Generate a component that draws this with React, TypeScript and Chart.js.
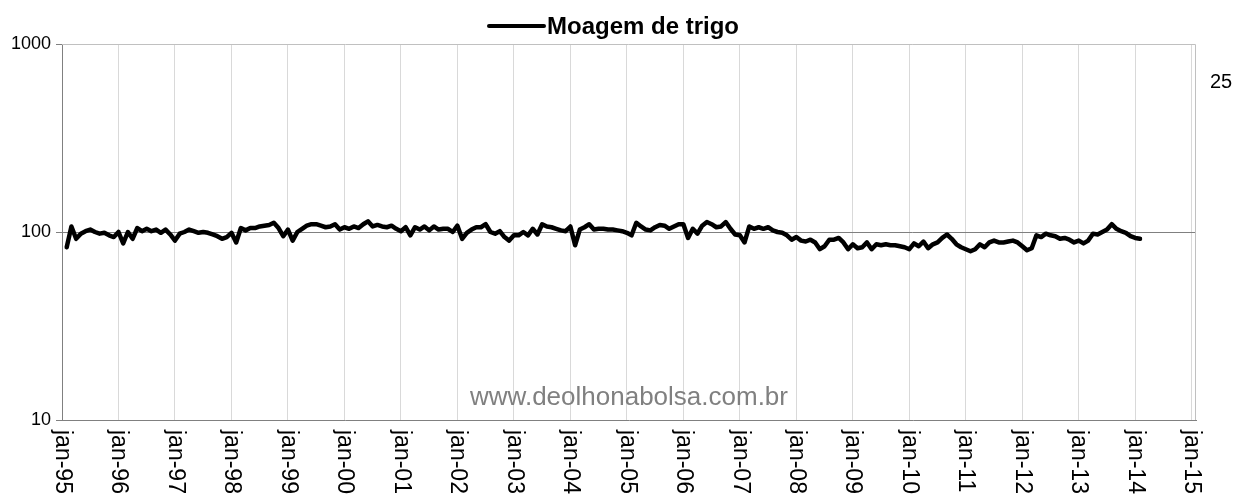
import React, { useEffect, useRef } from "react";
import { Chart, registerables } from "chart.js";

Chart.register(...registerables);

// Monthly values (Moagem de trigo), starting feb-95
const v1995 = [83, 107, 92, 98, 101, 103, 100, 98, 99, 96, 94];
const v1996 = [100, 87, 100, 92, 105, 101, 104, 101, 103, 99, 103, 97];
const v1997 = [90, 98, 100, 103, 101, 99, 100, 99, 97, 95, 92, 94];
const v1998 = [99, 88, 105, 102, 105, 105, 107, 108, 109, 112, 105, 95];
const v1999 = [103, 90, 100, 104, 108, 110, 110, 108, 106, 107, 110, 103];
const v2000 = [106, 104, 107, 105, 110, 114, 107, 109, 107, 106, 108, 104];
const v2001 = [101, 106, 96, 106, 103, 107, 102, 107, 103, 104, 104, 100];
const v2002 = [108, 92, 99, 103, 106, 106, 110, 100, 98, 101, 94, 90];
const v2003 = [96, 96, 100, 96, 104, 97, 110, 107, 106, 104, 102, 101];
const v2004 = [107, 85, 103, 106, 110, 103, 104, 104, 103, 103, 102, 101];
const v2005 = [99, 96, 112, 107, 103, 102, 106, 109, 108, 104, 107, 110];
const v2006 = [110, 93, 104, 98, 108, 113, 110, 106, 107, 113, 104, 97];
const v2007 = [96, 88, 107, 104, 106, 104, 106, 102, 100, 99, 96, 91];
const v2008 = [94, 90, 89, 91, 88, 81, 84, 91, 91, 93, 88, 81];
const v2009 = [86, 82, 83, 88, 81, 86, 85, 86, 85, 85, 84, 83];
const v2010 = [81, 87, 84, 89, 82, 86, 88, 93, 97, 92, 86, 83];
const v2011 = [81, 79, 81, 86, 83, 88, 90, 88, 88, 89, 90, 88];
const v2012 = [84, 80, 82, 96, 94, 98, 96, 95, 92, 93, 91, 88];
const v2013 = [90, 87, 90, 98, 97, 100, 103, 110, 104, 101, 99, 95];
const v2014 = [93, 92];

const firstMonthIndex = 1; // feb-95 (jan-95 = 0)
const seriesLabel = "Moagem de trigo";
const xTickLabels = [
  "jan-95", "jan-96", "jan-97", "jan-98", "jan-99", "jan-00", "jan-01",
  "jan-02", "jan-03", "jan-04", "jan-05", "jan-06", "jan-07", "jan-08",
  "jan-09", "jan-10", "jan-11", "jan-12", "jan-13", "jan-14", "jan-15",
];
const yTicks = [10, 100, 1000];
const rightLabel = "25";
const watermark = "www.deolhonabolsa.com.br";

const FONT = "'Liberation Sans', Arial, sans-serif";

export default function App() {
  const ref = useRef<HTMLCanvasElement | null>(null);

  useEffect(() => {
    if (!ref.current) return;
    const values = [
      ...v1995, ...v1996, ...v1997, ...v1998, ...v1999, ...v2000, ...v2001,
      ...v2002, ...v2003, ...v2004, ...v2005, ...v2006, ...v2007, ...v2008,
      ...v2009, ...v2010, ...v2011, ...v2012, ...v2013, ...v2014,
    ];
    const points = values.map((v, i) => ({ x: firstMonthIndex + i, y: v }));

    const decor = {
      id: "decor",
      afterDraw(chart: any) {
        const ctx = chart.ctx as CanvasRenderingContext2D;
        const a = chart.chartArea;
        const xs = chart.scales.x;
        ctx.save();
        // plot border top & right
        ctx.strokeStyle = "#c0c0c0";
        ctx.lineWidth = 1;
        ctx.beginPath();
        ctx.moveTo(a.left, a.top + 0.5);
        ctx.lineTo(a.right - 0.5, a.top + 0.5);
        ctx.lineTo(a.right - 0.5, a.bottom);
        ctx.stroke();

        // rotated x labels (clockwise)
        ctx.fillStyle = "#000";
        ctx.font = `23px ${FONT}`;
        ctx.textAlign = "left";
        ctx.textBaseline = "middle";
        xTickLabels.forEach((lab, i) => {
          const px = xs.getPixelForValue(i * 12);
          ctx.save();
          ctx.translate(px, a.bottom + 10);
          ctx.rotate(Math.PI / 2);
          ctx.fillText(lab, 0, 0);
          ctx.restore();
        });

        // watermark
        ctx.fillStyle = "#808080";
        ctx.font = `26px ${FONT}`;
        ctx.textAlign = "center";
        ctx.textBaseline = "alphabetic";
        ctx.fillText(watermark, (a.left + a.right) / 2, 405);

        // right label
        ctx.fillStyle = "#000";
        ctx.font = `20px ${FONT}`;
        ctx.textAlign = "left";
        ctx.textBaseline = "middle";
        ctx.fillText(rightLabel, 1210, 82);

        // legend
        ctx.strokeStyle = "#000";
        ctx.lineWidth = 4;
        ctx.lineCap = "round";
        ctx.beginPath();
        ctx.moveTo(489, 26);
        ctx.lineTo(544, 26);
        ctx.stroke();
        ctx.font = `bold 24px ${FONT}`;
        ctx.textAlign = "left";
        ctx.textBaseline = "middle";
        ctx.fillText(seriesLabel, 547, 27);
        ctx.restore();
      },
    };

    const chart = new Chart(ref.current, {
      type: "line",
      data: {
        datasets: [
          {
            label: seriesLabel,
            data: points,
            borderColor: "#000",
            backgroundColor: "#000",
            borderWidth: 4.5,
            pointRadius: 0,
            tension: 0,
            borderJoinStyle: "round",
            borderCapStyle: "round",
          } as any,
        ],
      },
      options: {
        animation: false,
        responsive: true,
        maintainAspectRatio: false,
        layout: { padding: { top: 44, right: 40, left: 0, bottom: 0 } },
        plugins: { legend: { display: false }, tooltip: { enabled: false } },
        scales: {
          x: {
            type: "linear",
            min: 0,
            max: 240.9,
            afterBuildTicks: (s: any) => {
              s.ticks = xTickLabels.map((_, i) => ({ value: i * 12 }));
            },
            afterFit: (s: any) => {
              s.height = 77;
            },
            ticks: { display: false },
            grid: { color: "#d9d9d9", drawTicks: false, lineWidth: 1 },
            border: { color: "#808080", width: 1 },
          },
          y: {
            type: "logarithmic",
            min: 10,
            max: 1000,
            afterBuildTicks: (s: any) => {
              s.ticks = yTicks.map((v) => ({ value: v }));
            },
            afterFit: (s: any) => {
              s.width = 62;
            },
            ticks: {
              callback: (v: any) => String(v),
              font: { family: FONT, size: 18 },
              color: "#000",
              padding: 5,
            },
            grid: {
              color: (c: any) =>
                c.tick && c.tick.value === 100 ? "#808080" : "rgba(0,0,0,0)",
              tickColor: "#808080",
              tickLength: 6,
              drawTicks: true,
            },
            border: { color: "#808080", width: 1 },
          },
        },
      },
      plugins: [decor],
    });
    return () => chart.destroy();
  }, []);

  return (
    <div
      style={{
        position: "fixed",
        left: 0,
        top: 0,
        width: "1236px",
        height: "497px",
        background: "#fff",
      }}
    >
      <canvas ref={ref} />
    </div>
  );
}
